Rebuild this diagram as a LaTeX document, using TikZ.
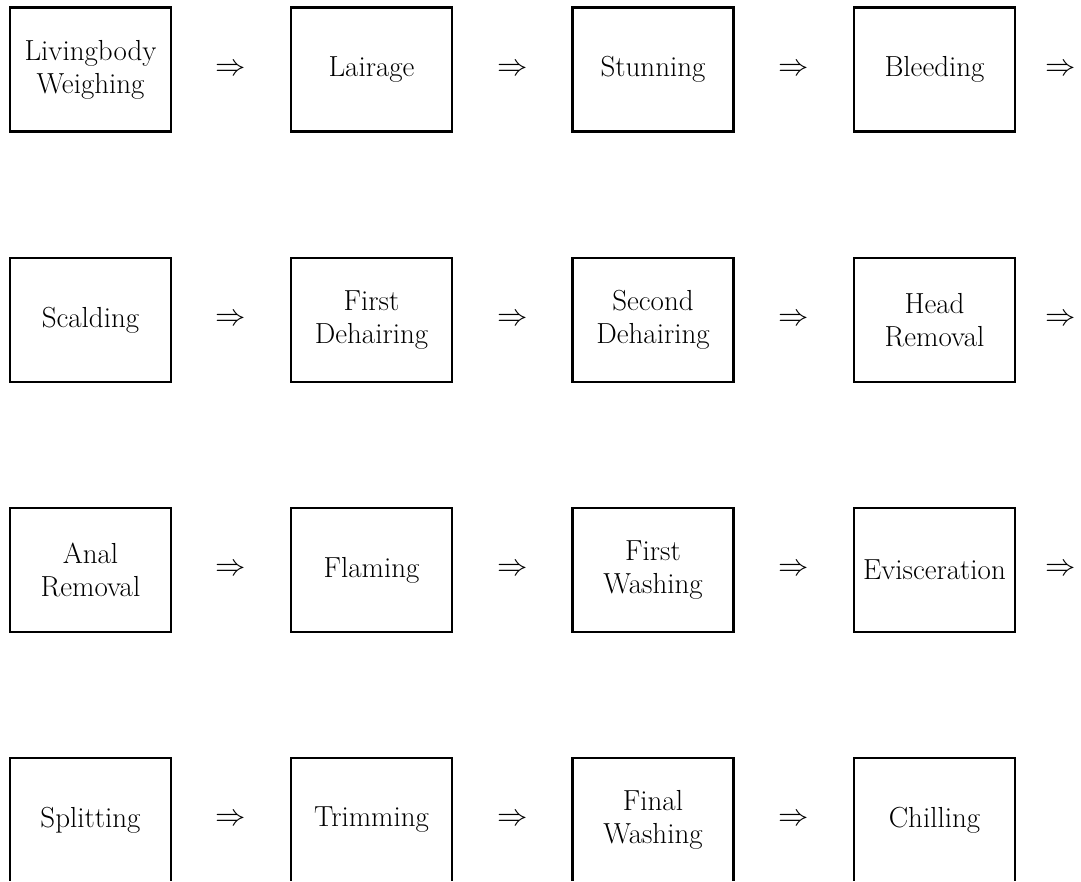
\documentclass[tikz,border=0pt]{standalone}
\usepackage{graphicx}
\begin{document}
\begin{tikzpicture}[x=1pt,y=-1pt,
  stepbox/.style={draw, line width=2.4pt, minimum width=161pt, minimum height=124pt,
    align=center, inner sep=0pt, font=\fontsize{29}{33}\selectfont},
  flow/.style={inner sep=0pt, font=\fontsize{24.88}{28}\selectfont}]
\newcommand\flowsym{\scalebox{1.22}{$\Rightarrow$}}
\useasboundingbox (0,0) rectangle (1081,881);
\clip (0,0) rectangle (1081,880);
% row 1
\node[stepbox] (b1) at (90.5,69.5) {Livingbody\\Weighing};
\node[stepbox] (b2) at (371.5,69.5) {Lairage};
\node[stepbox] (b3) at (653,69.5) {Stunning};
\node[stepbox] (b4) at (934.5,69.5) {Bleeding};
% row 2
\node[stepbox] (b5) at (90.5,320) {Scalding};
\node[stepbox] (b6) at (371.5,320) {First\\Dehairing};
\node[stepbox] (b7) at (653,320) {Second\\Dehairing};
\node[stepbox] (b8) at (934.5,320) {Head\\Removal};
% row 3
\node[stepbox] (b9) at (90.5,570) {Anal\\Removal};
\node[stepbox] (b10) at (371.5,570) {Flaming};
\node[stepbox] (b11) at (653,570) {First\\Washing};
\node[stepbox] (b12) at (934.5,570) {Evisceration};
% row 4 (runs past the lower edge)
\node[stepbox] (b13) at (90.5,820) {Splitting};
\node[stepbox] (b14) at (371.5,820) {Trimming};
\node[stepbox] (b15) at (653,820) {Final\\Washing};
\node[stepbox] (b16) at (934.5,820) {Chilling};
% arrows between steps
\foreach \r/\y in {1/69.5,2/320,3/570,4/820}{
  \node[flow] (a\r1) at (231,\y) {\flowsym};
  \node[flow] (a\r2) at (512.5,\y) {\flowsym};
  \node[flow] (a\r3) at (794,\y) {\flowsym};
}
\foreach \r/\y in {1/69.5,2/320,3/570}{
  \node[flow] (a\r4) at (1061,\y) {\flowsym};
}
\end{tikzpicture}
\end{document}
